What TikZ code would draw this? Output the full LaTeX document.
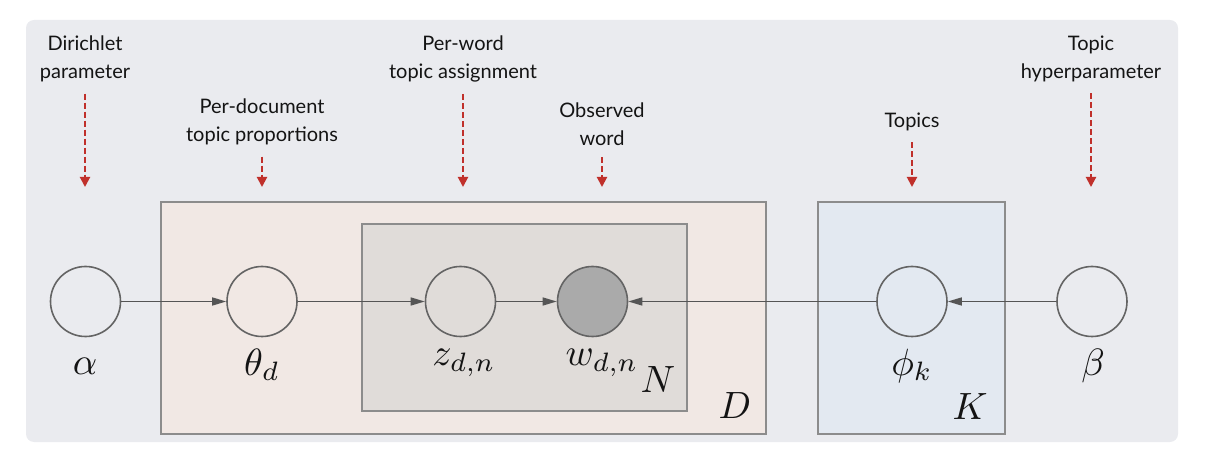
\documentclass[tikz,border=0pt]{standalone}
\usepackage{fontspec}
\newfontfamily\notefont{Lato}
\usetikzlibrary{arrows.meta}
\definecolor{panelgray}{RGB}{234,235,239}
\definecolor{docfill}{RGB}{241,232,228}
\definecolor{wordfill}{RGB}{224,220,217}
\definecolor{topicfill}{RGB}{227,233,241}
\definecolor{platedraw}{RGB}{140,140,140}
\definecolor{nodedraw}{RGB}{100,100,100}
\definecolor{obsfill}{RGB}{170,170,170}
\definecolor{edgegray}{RGB}{85,85,85}
\definecolor{notered}{RGB}{192,48,43}
\definecolor{textdark}{RGB}{20,20,20}

\begin{document}
\begin{tikzpicture}[x=1pt,y=-1pt,
    latent/.style={draw=nodedraw,line width=1.6pt,circle,minimum size=70pt,inner sep=0pt},
    observed/.style={latent,fill=obsfill},
    plate/.style={draw=platedraw,line width=1.4pt},
    mathlab/.style={scale=3.8,text=textdark,inner sep=0pt,anchor=base},
    notelab/.style={font=\notefont\fontsize{20}{28}\selectfont,text=textdark,align=center,inner sep=0pt,anchor=north},
    link/.style={draw=edgegray,line width=1.5pt,-{Triangle[length=14pt,width=8pt]}},
    notearrow/.style={draw=notered,line width=2pt,dash pattern=on 6pt off 3pt,-{Triangle[length=10pt,width=10pt]},shorten <=11pt}]
    \useasboundingbox (0,0) rectangle (1208,454);

    % panel and plates
    \fill[panelgray,rounded corners=8pt] (26,20) rectangle (1178,442);
    \draw[plate,fill=docfill] (161,202) rectangle (766,434);
    \draw[plate,fill=wordfill] (362,224) rectangle (687,411);
    \draw[plate,fill=topicfill] (818,202) rectangle (1005,434);

    % variables
    \node[latent] (alpha) at (85.5,301.5) {};
    \node[latent] (theta) at (262,301.5) {};
    \node[latent] (z) at (460.5,301.5) {};
    \node[observed] (w) at (592.5,301.5) {};
    \node[latent] (phi) at (912,301.5) {};
    \node[latent] (beta) at (1092,301.5) {};

    \node[mathlab] (alphalab) at (85,374) {$\alpha$};
    \node[mathlab] (thetalab) at (262,375) {$\theta_d$};
    \node[mathlab] (zlab) at (464,366) {$z_{d,n}$};
    \node[mathlab] (wlab) at (602,366) {$w_{d,n}$};
    \node[mathlab] (philab) at (912,375) {$\phi_k$};
    \node[mathlab] (betalab) at (1093,375) {$\beta$};

    % plate labels
    \node[mathlab] (nlab) at (658,392) {$N$};
    \node[mathlab] (dlab) at (735,418) {$D$};
    \node[mathlab] (klab) at (970,419) {$K$};

    % edges
    \draw[link] (alpha) -- (theta);
    \draw[link] (theta) -- (z);
    \draw[link] (z) -- (w);
    \draw[link] (phi) -- (w);
    \draw[link] (beta) -- (phi);

    % annotations
    \node[notelab] (dirnote) at (85,36) {Dirichlet\\parameter};
    \node[notelab] (propnote) at (262,99) {Per-document\\topic proportions};
    \node[notelab] (assignnote) at (463,36) {Per-word\\topic assignment};
    \node[notelab] (obsnote) at (602,103) {Observed\\word};
    \node[notelab] (topicsnote) at (912,113) {Topics};
    \node[notelab] (hypernote) at (1091,36) {Topic\\hyperparameter};

    \coordinate (dirtip) at (85,187);
    \coordinate (proptip) at (262,187);
    \coordinate (assigntip) at (463,187);
    \coordinate (obstip) at (602,187);
    \coordinate (topicstip) at (912,187);
    \coordinate (hypertip) at (1091,187);

    \draw[notearrow] (dirnote) -- (dirtip);
    \draw[notearrow] (propnote) -- (proptip);
    \draw[notearrow] (assignnote) -- (assigntip);
    \draw[notearrow] (obsnote) -- (obstip);
    \draw[notearrow] (topicsnote) -- (topicstip);
    \draw[notearrow] (hypernote) -- (hypertip);
\end{tikzpicture}
\end{document}
